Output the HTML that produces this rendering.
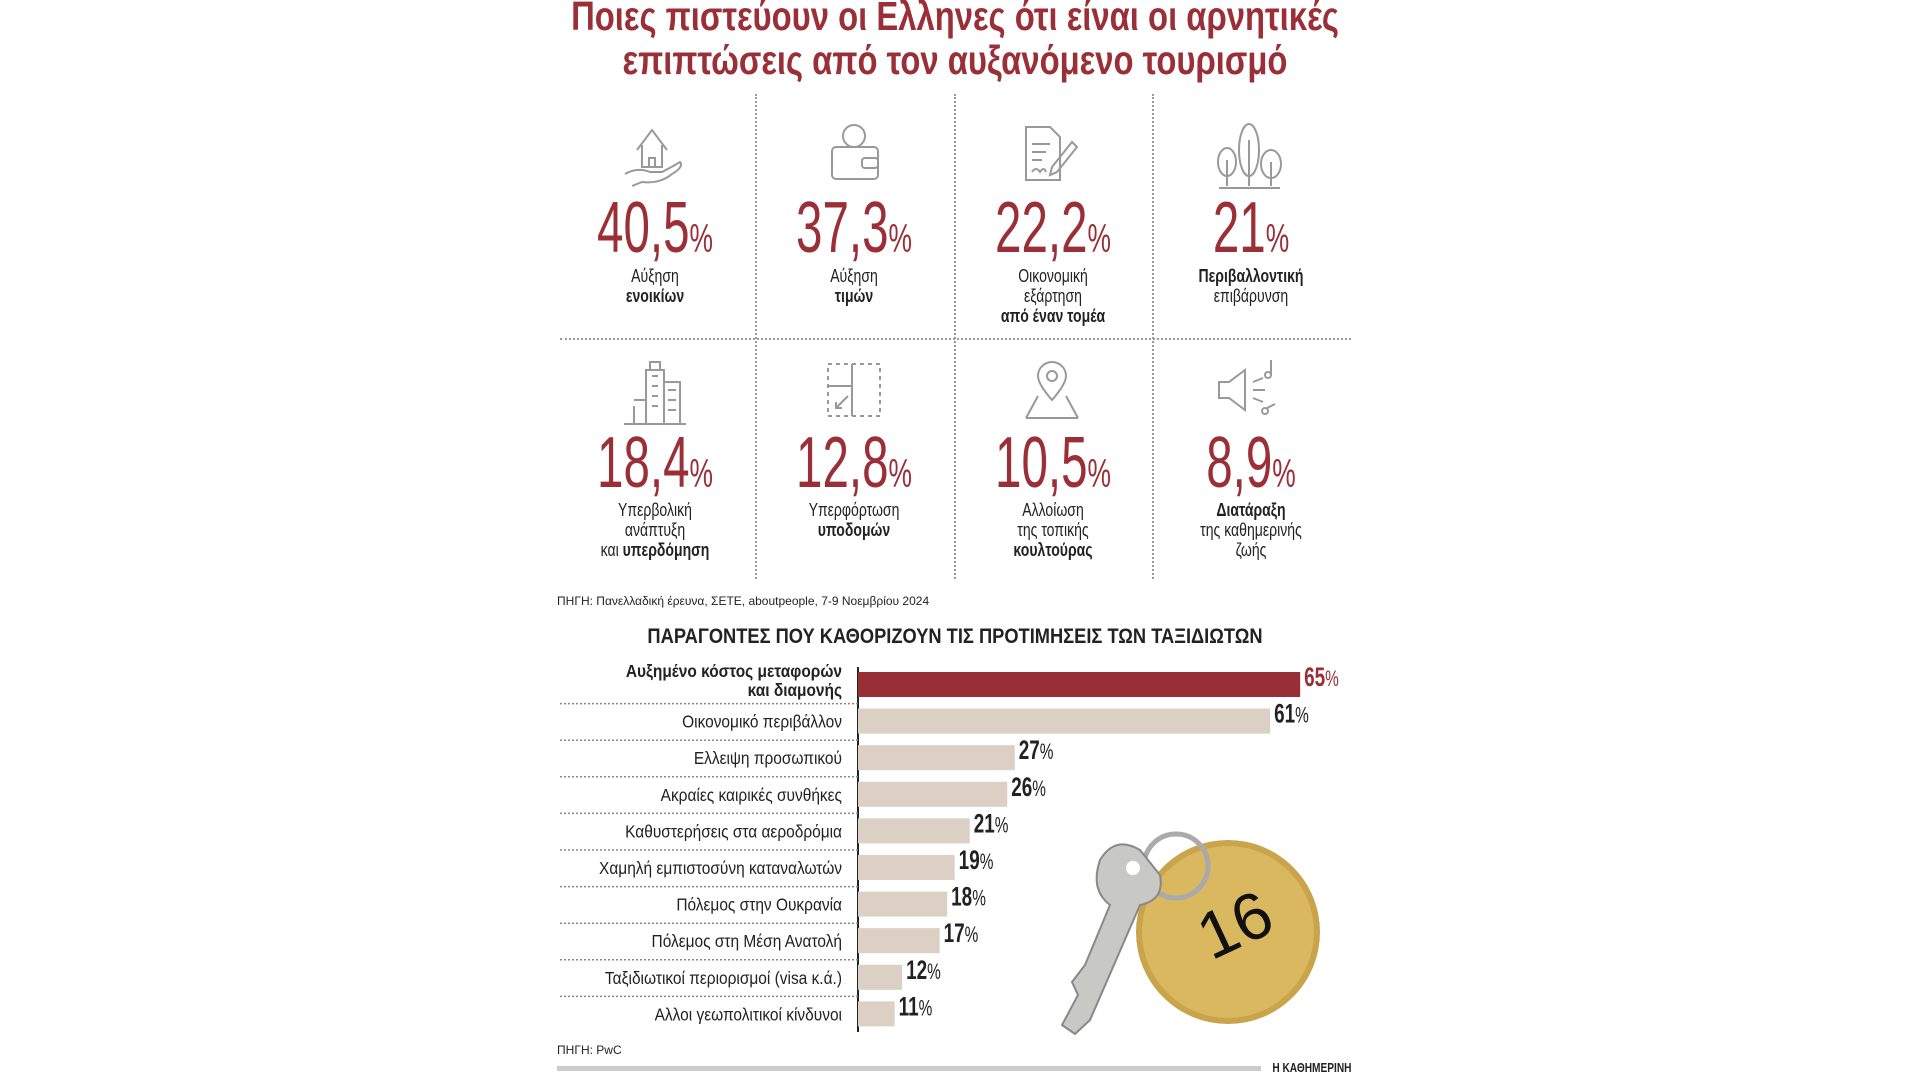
<!DOCTYPE html>
<html><head><meta charset="utf-8"><style>
body{margin:0;width:1920px;height:1080px;background:#fff;position:relative;overflow:hidden;font-family:"Liberation Sans",sans-serif;color:#222}
.abs{position:absolute}
.cx{position:absolute;transform:translateX(-50%);white-space:nowrap;text-align:center}
.nar{display:inline-block;transform:scaleX(.78);transform-origin:center}
.title{color:#9b2f37;font-weight:bold;font-size:41px;line-height:44px}
.num{color:#9b2f37;font-size:72px;line-height:72px}
.num .nar{transform:scaleX(.66)}
.num small{font-size:40px}
.lab{font-size:18px;line-height:20px}
.vd{position:absolute;width:0;border-left:2px dotted #999}
.hd{position:absolute;height:0;border-top:2px dotted #999}
.ic{position:absolute;stroke:#999;fill:none;stroke-width:2}
</style></head><body>
<div class="cx title" style="left:955px;top:-6px"><span class="nar" style="transform:scaleX(.8)">Ποιες πιστεύουν οι Ελληνες ότι είναι οι αρνητικές<br>επιπτώσεις από τον αυξανόμενο τουρισμό</span></div>

<div class="vd" style="left:755px;top:94px;height:485px"></div>
<div class="vd" style="left:954px;top:94px;height:485px"></div>
<div class="vd" style="left:1152px;top:94px;height:485px"></div>
<div class="hd" style="left:560px;top:338px;width:791px"></div>

<svg class="ic" style="left:622px;top:122px" width="65" height="65"><path d="M15 28 L30 8 L45 28 M20 23 V45 H40 V23 M27 45 V36 H33 V45 M3 52 Q15 45 28 50 H40 Q48 46 58 40 Q62 45 50 52 Q38 62 20 60 L10 64"/></svg>
<svg class="ic" style="left:822px;top:122px" width="65" height="65"><circle cx="32" cy="14" r="11"/><rect x="10" y="25" width="46" height="32" rx="4"/><rect x="40" y="36" width="16" height="10" rx="3"/></svg>
<svg class="ic" style="left:1020px;top:122px" width="65" height="65"><path d="M6 5 H30 L40 15 V58 H6 Z M12 22 H30 M12 30 H26 M12 38 H22 M12 50 Q16 44 20 50 Q24 44 26 50 M32 45 L52 20 L57 25 L37 50 L30 53 Z"/></svg>
<svg class="ic" style="left:1214px;top:120px" width="70" height="70"><ellipse cx="13" cy="42" rx="9" ry="14"/><ellipse cx="35" cy="30" rx="10" ry="26"/><ellipse cx="57" cy="44" rx="10" ry="14"/><path d="M13 40 V66 M35 20 V66 M57 42 V66 M5 68 H66"/></svg>
<svg class="ic" style="left:620px;top:356px" width="70" height="70"><path d="M26 68 V14 H44 V68 M44 26 H60 V68 M14 44 H26 M14 50 V68 M4 68 H66 M32 20 H38 M32 30 H38 M32 40 H38 M32 50 H38 M48 34 H56 M48 44 H56 M48 54 H56 M30 14 V6 H40 V14"/></svg>
<svg class="ic" style="left:822px;top:358px" width="66" height="66"><rect x="6" y="6" width="52" height="52" stroke-dasharray="4 4"/><path d="M30 6 V58 M6 28 H30 M14 50 L26 38 M14 44 V50 H20"/></svg>
<svg class="ic" style="left:1020px;top:356px" width="66" height="66"><path d="M32 44 Q18 28 18 20 A14 14 0 0 1 46 20 Q46 28 32 44 Z M6 62 L18 40 M58 62 L46 40 M6 62 H58"/><circle cx="32" cy="20" r="5"/></svg>
<svg class="ic" style="left:1215px;top:356px" width="72" height="66"><path d="M4 26 H14 L30 14 V54 L14 42 H4 Z M38 26 L48 22 M38 34 H50 M38 42 L48 46 M56 4 V18 M52 52 L60 48"/><circle cx="53" cy="19" r="3"/><circle cx="50" cy="55" r="3"/></svg>

<div class="cx num" style="left:655px;top:192px"><span class="nar">40,5<small>%</small></span></div>
<div class="cx num" style="left:854px;top:192px"><span class="nar">37,3<small>%</small></span></div>
<div class="cx num" style="left:1053px;top:192px"><span class="nar">22,2<small>%</small></span></div>
<div class="cx num" style="left:1251px;top:192px"><span class="nar">21<small>%</small></span></div>
<div class="cx num" style="left:655px;top:427px"><span class="nar">18,4<small>%</small></span></div>
<div class="cx num" style="left:854px;top:427px"><span class="nar">12,8<small>%</small></span></div>
<div class="cx num" style="left:1053px;top:427px"><span class="nar">10,5<small>%</small></span></div>
<div class="cx num" style="left:1251px;top:427px"><span class="nar">8,9<small>%</small></span></div>

<div class="cx lab" style="left:655px;top:266px"><span class="nar">Αύξηση<br><b>ενοικίων</b></span></div>
<div class="cx lab" style="left:854px;top:266px"><span class="nar">Αύξηση<br><b>τιμών</b></span></div>
<div class="cx lab" style="left:1053px;top:266px"><span class="nar">Οικονομική<br>εξάρτηση<br><b>από έναν τομέα</b></span></div>
<div class="cx lab" style="left:1251px;top:266px"><span class="nar"><b>Περιβαλλοντική</b><br>επιβάρυνση</span></div>
<div class="cx lab" style="left:655px;top:500px"><span class="nar">Υπερβολική<br>ανάπτυξη<br>και <b>υπερδόμηση</b></span></div>
<div class="cx lab" style="left:854px;top:500px"><span class="nar">Υπερφόρτωση<br><b>υποδομών</b></span></div>
<div class="cx lab" style="left:1053px;top:500px"><span class="nar">Αλλοίωση<br>της τοπικής<br><b>κουλτούρας</b></span></div>
<div class="cx lab" style="left:1251px;top:500px"><span class="nar"><b>Διατάραξη</b><br>της καθημερινής<br>ζωής</span></div>

<div class="abs" style="left:557px;top:594px;font-size:12px;white-space:nowrap">ΠΗΓΗ: Πανελλαδική έρευνα, ΣΕΤΕ, aboutpeople, 7-9 Νοεμβρίου 2024</div>

<div class="cx" style="left:955px;top:625px;font-size:21px;font-weight:bold"><span class="nar" style="transform:scaleX(.87)">ΠΑΡΑΓΟΝΤΕΣ ΠΟΥ ΚΑΘΟΡΙΖΟΥΝ ΤΙΣ ΠΡΟΤΙΜΗΣΕΙΣ ΤΩΝ ΤΑΞΙΔΙΩΤΩΝ</span></div>

<svg class="abs" style="left:0;top:0" width="1920" height="1080" id="chart">
 <g>
  <circle cx="1228" cy="932" r="92" fill="#c9a44a"/>
  <circle cx="1228" cy="932" r="86" fill="#d9b860"/>
  <circle cx="1176" cy="866" r="32" fill="none" stroke="#aaa" stroke-width="5"/>
  <text x="1200" y="950" font-size="66" font-family="Liberation Sans" fill="#111" transform="rotate(-25 1230 930)">16</text>
  <path d="M1100 860 Q1115 835 1140 850 L1160 875 Q1165 900 1140 905 L1090 1020 L1075 1034 L1062 1025 L1078 995 L1072 982 L1085 965 L1110 905 Q1090 890 1100 860 Z" fill="#c8c8c4" stroke="#888" stroke-width="2"/>
  <circle cx="1133" cy="868" r="7" fill="#fff"/>
 </g>
</svg>

<div class="abs" style="left:557px;top:1043px;font-size:12px">ΠΗΓΗ: PwC</div>
<div class="abs" style="left:557px;top:1066px;width:704px;height:5px;background:#ccc"></div>
<div class="abs" style="right:569px;top:1060px;font-size:13px;font-weight:bold"><span class="nar" style="transform-origin:right">Η ΚΑΘΗΜΕΡΙΝΗ</span></div>

<script>
const categories=["Αυξημένο κόστος μεταφορών|και διαμονής","Οικονομικό περιβάλλον","Ελλειψη προσωπικού","Ακραίες καιρικές συνθήκες","Καθυστερήσεις στα αεροδρόμια","Χαμηλή εμπιστοσύνη καταναλωτών","Πόλεμος στην Ουκρανία","Πόλεμος στη Μέση Ανατολή","Ταξιδιωτικοί περιορισμοί (visa κ.ά.)","Αλλοι γεωπολιτικοί κίνδυνοι"];
const values=[65,61,27,26,21,19,18,17,12,11];
const NS="http://www.w3.org/2000/svg";
const svg=document.getElementById('chart');
const axisX=858, origin=812, pxPer=7.51, top0=672, pitch=36.6, bh=25;
const xs=v=>origin+v*pxPer;
const ys=i=>top0+i*pitch;
function mk(t,a){const e=document.createElementNS(NS,t);for(const k in a)e.setAttribute(k,a[k]);svg.insertBefore(e,svg.firstChild);return e;}
categories.forEach((c,i)=>{
  const y=ys(i);
  const r=mk('rect',{x:axisX,y:y,width:Math.max(0,xs(values[i])-axisX),height:bh,fill:i===0?'#982f37':'#dccfc4'});
  
  
  const lines=c.split('|');
  lines.forEach((l,j)=>{
    const t=mk('text',{x:842,y:lines.length>1?y+5+j*19:y+19,'text-anchor':'end','font-size':18,'font-family':'Liberation Sans','font-weight':i===0?'bold':'normal',fill:'#222',transform:`translate(842 0) scale(0.86 1) translate(-842 0)`});
    t.textContent=l;
    
    
  });
  const vx=xs(values[i])+4;
  const vt=mk('text',{x:vx,y:y+14,'font-size':27,'font-weight':'bold','font-family':'Liberation Sans',fill:i===0?'#982f37':'#222',transform:`translate(${vx} 0) scale(0.7 1) translate(${-vx} 0)`});
  vt.innerHTML=values[i]+'<tspan font-size="22" font-weight="normal">%</tspan>';
  
  
  if(i<categories.length-1){
    const ln=mk('line',{x1:560,x2:axisX,y1:y+pitch-5,y2:y+pitch-5,stroke:'#888','stroke-width':1.5,'stroke-dasharray':'2 2'});
    
    
  }
});
const ax=mk('line',{x1:axisX,x2:axisX,y1:667,y2:1032,stroke:'#222','stroke-width':2});


</script>
</body></html>
